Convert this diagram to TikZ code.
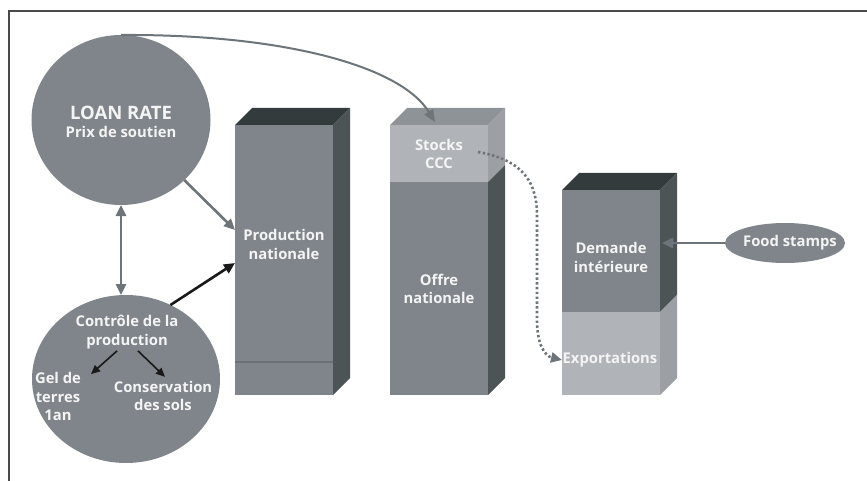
\documentclass[tikz,border=0pt]{standalone}
\usepackage{fontspec}
\setmainfont{Open Sans}
\usetikzlibrary{arrows.meta,shapes.geometric,calc}

\definecolor{midgray}{HTML}{7F858A}
\definecolor{topdark}{HTML}{333B3C}
\definecolor{sidedark}{HTML}{4D5456}
\definecolor{lightfront}{HTML}{B0B4B8}
\definecolor{lightside}{HTML}{9CA0A4}
\definecolor{stocktop}{HTML}{8D9397}
\definecolor{arrowgray}{HTML}{6E757A}
\definecolor{sepgray}{HTML}{6A7074}
\definecolor{framegray}{HTML}{4A4A4A}
\definecolor{labelwhite}{HTML}{F4F4F4}

\begin{document}
\begin{tikzpicture}[x=1pt,y=-1pt,
  face/.style={inner sep=0pt, outer sep=0pt, minimum width=98pt},
  blob/.style={ellipse, fill=midgray, inner sep=0pt, outer sep=0pt},
  lbl/.style={text=labelwhite, font=\bfseries\fontsize{14.8}{18.5}\selectfont, align=center, inner sep=0pt},
  garrow/.style={draw=arrowgray, line width=2.6pt, -{Triangle[length=11pt,width=10pt]}},
  karrow/.style={draw=black!90, line width=2.6pt, -{Triangle[length=11pt,width=10pt]}},
  smallarrow/.style={draw=black!90, line width=1.6pt, -{Triangle[length=9pt,width=8pt]}},
  dotarrow/.style={draw=arrowgray, line width=2.6pt, dash pattern=on 2.4pt off 2.4pt, -{Triangle[length=11pt,width=10pt]}}
]
\useasboundingbox (0,0) rectangle (867,481);
\fill[white] (0,0) rectangle (867,481);

% frame
\draw[framegray, line width=1.5pt] (9,481) -- (9,11) -- (867,11);

% round blobs
\node[blob, minimum width=179pt, minimum height=170pt] (loan) at (121,120) {};
\node[blob, minimum width=188pt, minimum height=168pt] (ctrl) at (126,379) {};
\node[blob, minimum width=120pt, minimum height=40pt] (food) at (785,243) {};

% bar 1: production
\node[face, fill=midgray, minimum height=270pt] (prod) at (284,260) {};
\fill[topdark] (prod.north west) -- ++(17,-17) -- ++(98,0) -- (prod.north east) -- cycle;
\fill[sidedark] (prod.north east) -- ++(17,-17) -- ++(0,270) -- (prod.south east) -- cycle;
\draw[sepgray, line width=1.2pt] ($(prod.south west)+(0,-33)$) -- ($(prod.south east)+(0,-33)$);

% bar 2: stocks + offre
\node[face, fill=lightfront, minimum height=57pt] (stocks) at (439,153.5) {};
\node[face, fill=midgray, minimum height=213pt] (offre) at (439,288.5) {};
\fill[stocktop] (stocks.north west) -- ++(17,-17) -- ++(98,0) -- (stocks.north east) -- cycle;
\fill[lightside] (stocks.north east) -- ++(17,-17) -- ++(0,57) -- (stocks.south east) -- cycle;
\fill[sidedark] (offre.north east) -- ++(17,-17) -- ++(0,213) -- (offre.south east) -- cycle;

% bar 3: demande + exportations
\node[face, fill=midgray, minimum height=122pt] (dem) at (611,251) {};
\node[face, fill=lightfront, minimum height=83pt] (expo) at (611,353.5) {};
\fill[topdark] (dem.north west) -- ++(17,-17) -- ++(98,0) -- (dem.north east) -- cycle;
\fill[sidedark] (dem.north east) -- ++(17,-17) -- ++(0,122) -- (dem.south east) -- cycle;
\fill[lightside] (expo.north east) -- ++(17,-17) -- ++(0,83) -- (expo.south east) -- cycle;

% labels
\node[text=labelwhite, font=\bfseries\fontsize{18.5}{20}\selectfont, inner sep=0pt, anchor=base] (lr) at (121,119.5) {LOAN RATE};
\node[lbl, anchor=base] (ps) at (121,137.5) {Prix de soutien};
\node[lbl] (ctrltxt) at (127,332) {Contrôle de la\\production};
\node[lbl] (gel) at (58,396.5) {Gel de\\terres\\1an};
\node[lbl] (cons) at (163,396) {Conservation\\des sols};
\node[lbl] (prodtxt) at (284,244.5) {Production\\nationale};
\node[lbl] (stocktxt) at (439,154) {Stocks\\CCC};
\node[lbl] (offtxt) at (439,289) {Offre\\nationale};
\node[lbl] (demtxt) at (611,257.5) {Demande\\intérieure};
\node[lbl] (exptxt) at (610,360) {Exportations};
\node[lbl] (foodtxt) at (790,243) {Food stamps};

% connectors
\draw[garrow, {Triangle[length=11pt,width=10pt]}-{Triangle[length=11pt,width=10pt]}]
  (loan.south) -- (loan.south |- ctrl.north);
\draw[garrow] (loan.south east) -- ([yshift=30pt]prod.west);
\draw[karrow] (ctrl.59) -- ([yshift=-3pt]prod.west);
\draw[smallarrow] ($(ctrltxt.south)+(-10,2)$) -- ($(gel.north)+(33,2)$);
\draw[smallarrow] ($(ctrltxt.south)+(11,2)$) -- ($(cons.north)+(2,-4)$);
\draw[draw=arrowgray, line width=2pt, -{Triangle[length=12pt,width=10pt]}]
  (loan.north) .. controls (280,34) and (400,65) .. ($(stocks.north)+(-4,-3)$);
\coordinate (dotstart) at (478,152);
\draw[dotarrow] (dotstart) .. controls (525,160) and (537,185) .. (537,215)
  -- (537,320) .. controls (537,345) and (545,356) .. ([yshift=-6.5pt]expo.west);
\draw[garrow] (food.west) -- ([xshift=2pt,yshift=8pt]dem.east);
\end{tikzpicture}
\end{document}
